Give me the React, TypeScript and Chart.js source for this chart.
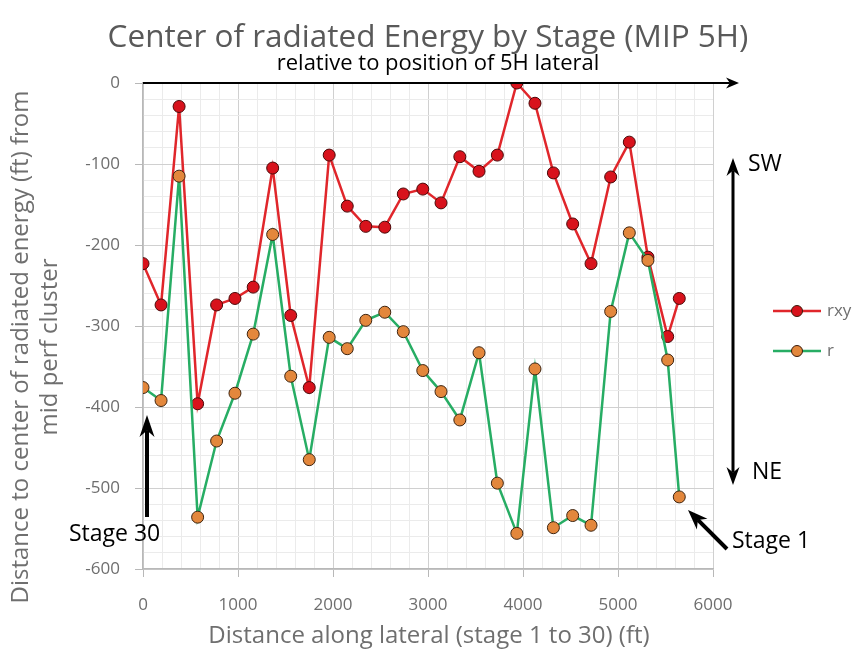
import React, { useEffect, useRef } from "react";
import { Chart, registerables } from "chart.js";

Chart.register(...registerables);

const distances = [0, 190, 380, 575, 775, 968, 1160, 1365, 1555, 1750, 1960, 2150, 2345, 2545, 2740, 2945, 3137, 3335, 3537, 3730, 3935, 4126, 4320, 4523, 4716, 4923, 5119, 5315, 5523, 5645];
const rxyValues = [-223, -274, -29, -396, -274, -266, -252, -105, -287, -376, -89, -152, -177, -178, -137, -131, -148, -91, -109, -89, 0, -25, -111, -174, -223, -116, -73, -215, -313, -266];
const rValues = [-376, -392, -115, -536, -442, -383, -310, -187, -362, -465, -314, -328, -293, -283, -307, -355, -381, -416, -333, -494, -556, -353, -549, -534, -546, -282, -185, -219, -342, -511];
const seriesNames = ["rxy", "r"];
const xTicksMajor = [0, 1000, 2000, 3000, 4000, 5000, 6000];
const yTicksMajor = [0, -100, -200, -300, -400, -500, -600];

const TITLE = "Center of radiated Energy by Stage (MIP 5H)";
const SUBTITLE = "relative to position of 5H lateral";
const Y_TITLE_1 = "Distance to center of radiated energy (ft) from";
const Y_TITLE_2 = "mid perf cluster";
const X_TITLE = "Distance along lateral (stage 1 to 30) (ft)";

const FONT = "'Open Sans', sans-serif";
const RED_LINE = "#e0262b";
const RED_FILL = "#d8121c";
const GREEN_LINE = "#27ad64";
const ORANGE_FILL = "#e3873c";

function drawArrowHead(ctx: CanvasRenderingContext2D, tx: number, ty: number, angle: number, len: number, w: number) {
  ctx.save();
  ctx.translate(tx, ty);
  ctx.rotate(angle);
  ctx.beginPath();
  ctx.moveTo(0, 0);
  ctx.lineTo(-len, -w / 2);
  ctx.lineTo(-len * 0.7, 0);
  ctx.lineTo(-len, w / 2);
  ctx.closePath();
  ctx.fill();
  ctx.restore();
}

function drawArrow(ctx: CanvasRenderingContext2D, x1: number, y1: number, x2: number, y2: number, lw: number, len: number, w: number, both = false) {
  const ang = Math.atan2(y2 - y1, x2 - x1);
  ctx.save();
  ctx.strokeStyle = "#000";
  ctx.fillStyle = "#000";
  ctx.lineWidth = lw;
  ctx.beginPath();
  const sx = both ? x1 + Math.cos(ang) * len * 0.7 : x1;
  const sy = both ? y1 + Math.sin(ang) * len * 0.7 : y1;
  ctx.moveTo(sx, sy);
  ctx.lineTo(x2 - Math.cos(ang) * len * 0.7, y2 - Math.sin(ang) * len * 0.7);
  ctx.stroke();
  drawArrowHead(ctx, x2, y2, ang, len, w);
  if (both) drawArrowHead(ctx, x1, y1, ang + Math.PI, len, w);
  ctx.restore();
}

const decorPlugin = {
  id: "decor",
  afterDraw(chart: any) {
    const ctx: CanvasRenderingContext2D = chart.ctx;
    const ca = chart.chartArea;
    ctx.save();
    // titles
    ctx.textAlign = "center";
    ctx.textBaseline = "alphabetic";
    ctx.fillStyle = "#595959";
    ctx.font = `31.5px ${FONT}`;
    ctx.fillText(TITLE, 428, 47);
    ctx.fillStyle = "#000";
    ctx.font = `22px ${FONT}`;
    ctx.fillText(SUBTITLE, 438, 70);
    // x title
    ctx.fillStyle = "#6f6f6f";
    ctx.font = `24px ${FONT}`;
    ctx.textBaseline = "middle";
    ctx.fillText(X_TITLE, 429, 636);
    // y title
    ctx.save();
    ctx.translate(21, 347);
    ctx.rotate(-Math.PI / 2);
    ctx.font = `24px ${FONT}`;
    ctx.fillText(Y_TITLE_1, 0, 0);
    ctx.restore();
    ctx.save();
    ctx.translate(50, 347);
    ctx.rotate(-Math.PI / 2);
    ctx.font = `24px ${FONT}`;
    ctx.fillText(Y_TITLE_2, 0, 0);
    ctx.restore();

    // top arrow along the zero line
    drawArrow(ctx, ca.left, ca.top, 739, ca.top, 2, 13, 11);
    // SW / NE double arrow
    drawArrow(ctx, 733, 485, 733, 158, 3, 18, 13, true);
    // Stage 30 arrow
    drawArrow(ctx, 147, 517, 147, 415, 4, 22, 15);
    // Stage 1 arrow
    drawArrow(ctx, 727, 549, 688, 510, 4, 20, 15);

    ctx.fillStyle = "#000";
    ctx.textAlign = "left";
    ctx.textBaseline = "alphabetic";
    ctx.font = `23px ${FONT}`;
    ctx.fillText("Stage 30", 69, 541);
    ctx.fillText("Stage 1", 732, 548);
    ctx.fillText("SW", 748, 171);
    ctx.fillText("NE", 752, 479);

    // legend
    const items = [
      { name: seriesNames[0], line: RED_LINE, fill: RED_FILL, y: 311 },
      { name: seriesNames[1], line: GREEN_LINE, fill: ORANGE_FILL, y: 351 },
    ];
    items.forEach((it) => {
      ctx.strokeStyle = it.line;
      ctx.lineWidth = 2.5;
      ctx.beginPath();
      ctx.moveTo(773, it.y);
      ctx.lineTo(821, it.y);
      ctx.stroke();
      ctx.beginPath();
      ctx.arc(797, it.y, 5.5, 0, Math.PI * 2);
      ctx.fillStyle = it.fill;
      ctx.fill();
      ctx.lineWidth = 1;
      ctx.strokeStyle = "#3a1a0a";
      ctx.stroke();
      ctx.fillStyle = "#6f6f6f";
      ctx.font = `17px ${FONT}`;
      ctx.textBaseline = "middle";
      ctx.fillText(it.name, 827, it.y);
    });
    ctx.restore();
  },
};

export default function App() {
  const ref = useRef<HTMLCanvasElement | null>(null);
  useEffect(() => {
    if (!ref.current) return;
    const rxyPts = distances.map((x, i) => ({ x, y: rxyValues[i] }));
    const rPts = distances.map((x, i) => ({ x, y: rValues[i] }));
    const chart = new Chart(ref.current, {
      type: "line",
      data: {
        datasets: [
          {
            label: seriesNames[0],
            data: rxyPts,
            borderColor: RED_LINE,
            backgroundColor: RED_FILL,
            pointBackgroundColor: RED_FILL,
            pointBorderColor: "#4a0808",
            pointBorderWidth: 1,
            pointRadius: 6,
            borderWidth: 2.5,
            tension: 0,
            order: 2,
          },
          {
            label: seriesNames[1],
            data: rPts,
            borderColor: GREEN_LINE,
            backgroundColor: ORANGE_FILL,
            pointBackgroundColor: ORANGE_FILL,
            pointBorderColor: "#3d2410",
            pointBorderWidth: 1,
            pointRadius: 6,
            borderWidth: 2.5,
            tension: 0,
            order: 1,
          },
        ],
      },
      options: {
        responsive: false,
        animation: false,
        layout: { padding: { left: 0, right: 146, top: 83, bottom: 0 } },
        plugins: { legend: { display: false }, tooltip: { enabled: false }, title: { display: false } },
        scales: {
          x: {
            type: "linear",
            min: 0,
            max: 6000,
            afterFit: (s: any) => { s.height = 92; },
            ticks: {
              stepSize: 200,
              autoSkip: false,
              maxRotation: 0,
              padding: 18,
              color: "#6e6e6e",
              font: { family: FONT, size: 17 },
              callback: (v: any) => (xTicksMajor.includes(Number(v)) ? String(v) : ""),
            },
            grid: {
              color: (c: any) => (c.tick && c.tick.value % 1000 === 0 ? "#d0d0d0" : "#ebebeb"),
              tickColor: (c: any) => (c.tick && c.tick.value % 1000 === 0 ? "#b8b8b8" : "rgba(0,0,0,0)"),
              tickLength: 8,
              lineWidth: 1,
            },
            border: { color: "#b8b8b8", width: 1.5 },
          },
          y: {
            type: "linear",
            min: -600,
            max: 0,
            afterFit: (s: any) => { s.width = 143; },
            ticks: {
              stepSize: 20,
              autoSkip: false,
              padding: 15,
              color: "#6e6e6e",
              font: { family: FONT, size: 17 },
              callback: (v: any) => (yTicksMajor.includes(Number(v)) ? String(v) : ""),
            },
            grid: {
              color: (c: any) => (c.tick && c.tick.value % 100 === 0 ? "#d0d0d0" : "#ebebeb"),
              tickColor: (c: any) => (c.tick && c.tick.value % 100 === 0 ? "#b8b8b8" : "rgba(0,0,0,0)"),
              tickLength: 8,
              lineWidth: 1,
            },
            border: { color: "#b8b8b8", width: 1.5 },
          },
        },
      },
      plugins: [decorPlugin],
    });
    return () => chart.destroy();
  }, []);
  return (
    <div style={{ position: "fixed", left: 0, top: 0, width: 859, height: 661, background: "#fff" }}>
      <canvas ref={ref} width={859} height={661} style={{ display: "block" }} />
    </div>
  );
}
